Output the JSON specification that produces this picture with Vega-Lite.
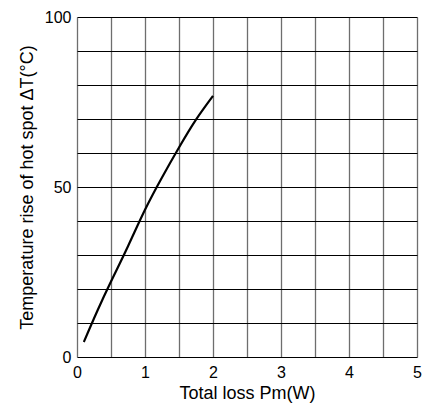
{
  "$schema": "https://vega.github.io/schema/vega-lite/v6.json",
  "width": 340,
  "height": 340,
  "autosize": "none",
  "padding": {"left": 77, "top": 17, "right": 15, "bottom": 48},
  "background": "white",
  "config": {
    "view": {"stroke": null},
    "font": "Liberation Sans",
    "axis": {"labelFont": "Liberation Sans", "titleFont": "Liberation Sans", "labelColor": "black", "titleColor": "black"}
  },
  "data": {
    "values": [
      {"p": 0.1, "t": 4.4},
      {"p": 0.3, "t": 13.6},
      {"p": 0.5, "t": 22.2},
      {"p": 0.75, "t": 32.6},
      {"p": 1.0, "t": 43.3},
      {"p": 1.25, "t": 52.8},
      {"p": 1.5, "t": 61.6},
      {"p": 1.75, "t": 69.8},
      {"p": 2.0, "t": 76.8}
    ]
  },
  "mark": {"type": "line", "color": "black", "strokeWidth": 2.2, "interpolate": "natural"},
  "encoding": {
    "x": {
      "field": "p", "type": "quantitative",
      "scale": {"domain": [0, 5], "nice": false},
      "axis": {
        "title": "Total loss Pm(W)",
        "titleFontSize": 18, "titleFontWeight": "normal", "titlePadding": 4,
        "values": [0, 0.5, 1, 1.5, 2, 2.5, 3, 3.5, 4, 4.5, 5],
        "labelExpr": "datum.value % 1 == 0 ? format(datum.value, 'd') : ''",
        "labelFontSize": 16, "labelPadding": 7,
        "ticks": false, "domain": false,
        "grid": true, "gridColor": "#6e6e6e", "gridWidth": 1.3, "gridOpacity": 1,
        "labelFlush": false, "labelOverlap": false
      }
    },
    "y": {
      "field": "t", "type": "quantitative",
      "scale": {"domain": [0, 100], "nice": false},
      "axis": {
        "title": "Temperature rise of hot spot ΔT(°C)",
        "titleFontSize": 18, "titleFontWeight": "normal", "titlePadding": 8,
        "values": [0, 10, 20, 30, 40, 50, 60, 70, 80, 90, 100],
        "labelExpr": "datum.value % 50 == 0 ? format(datum.value, 'd') : ''",
        "labelFontSize": 16, "labelPadding": 6,
        "ticks": false, "domain": false,
        "grid": true, "gridColor": "black", "gridWidth": 1, "gridOpacity": 1,
        "labelFlush": false, "labelOverlap": false
      }
    }
  }
}
